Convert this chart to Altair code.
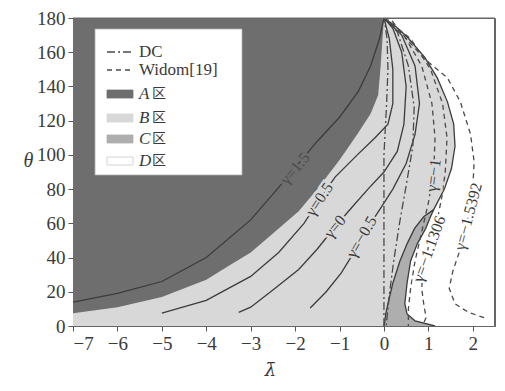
import altair as alt
import pandas as pd

# ---------------- values ----------------
x_ticks = [-7, -6, -5, -4, -3, -2, -1, 0, 1, 2]
y_ticks = [0, 20, 40, 60, 80, 100, 120, 140, 160, 180]

# lower edge of region A (theta as a function of lambda)
a_lam = [-7, -6, -5, -4, -3.5, -3, -2.5, -1.92, -1.5, -1, -0.6, -0.3, -0.13, -0.08, -0.04, 0]
a_theta = [7.5, 11, 17, 27, 35, 43, 54, 67, 80, 97, 112, 124, 135, 150, 165, 180]

# B / D border (lambda as a function of theta)
bd_theta = [0, 3, 7, 13, 25, 38, 48, 57, 64, 68, 80, 92, 105, 118, 131, 145, 157, 169, 176, 180]
bd_lam = [1.15, 0.7, 0.52, 0.47, 0.52, 0.6, 0.75, 0.94, 1.05, 1.12, 1.36, 1.52, 1.6, 1.57, 1.43, 1.2, 0.92, 0.52, 0.22, 0]

# region C: left edge on the same theta grid as the lower B/D border
c_theta = [0, 3, 7, 13, 25, 38, 48, 57, 64, 68]
c_left = [0, 0.02, 0.04, 0.09, 0.2, 0.36, 0.52, 0.69, 0.9, 1.12]
c_right = [1.15, 0.7, 0.52, 0.47, 0.52, 0.6, 0.75, 0.94, 1.05, 1.12]

# solid gamma curves
g15_lam = [-7, -6, -5, -4, -3, -2.37, -1.5, -1, -0.58, -0.3, -0.1, 0]
g15_theta = [14, 19, 26, 40, 62, 81, 108, 122, 137, 152, 168, 180]
g05_lam = [-5, -4, -3, -2.37, -1.8, -1.45, -1.1, -0.6, -0.2, 0.09, 0.2, 0.2, 0.12, 0]
g05_theta = [7.5, 15, 29, 43, 60, 74, 87, 100, 110, 118, 130, 150, 168, 180]
g0_lam = [-3.27, -3, -2.5, -1.92, -1.5, -1.1, -0.7, -0.36, 0, 0.3, 0.45, 0.5, 0.4, 0.2, 0]
g0_theta = [8, 11, 21, 33, 45, 58, 70, 80, 90, 102, 118, 140, 160, 174, 180]
gm05_lam = [-1.66, -1.3, -0.96, -0.7, -0.5, -0.3, -0.07, 0.2, 0.5, 0.7, 0.8, 0.7, 0.4, 0]
gm05_theta = [10.5, 20, 31, 42, 52, 60, 69, 80, 95, 112, 130, 152, 170, 180]

# dashed curves
dv_lam = [0, 0, 0.06, 0.09, 0.07, 0]
dv_theta = [0, 100, 130, 150, 168, 180]
d1_lam = [0, 0.3, 0.55, 0.68, 0.65, 0.5, 0.35, 0.22, 0.12, 0.05]
d1_theta = [180, 172, 152, 128, 105, 82, 60, 38, 18, 0]
gm1_lam = [0, 0.45, 0.85, 1.08, 1.15, 1.12, 1.0, 0.85, 0.7, 0.6, 0.55, 0.55]
gm1_theta = [180, 170, 152, 130, 110, 90, 72, 55, 38, 22, 10, 0]
gm11306_lam = [0, 0.6, 1.05, 1.32, 1.42, 1.38, 1.3, 1.2, 1.0, 0.88, 0.85, 0.9, 0.95, 0.9]
gm11306_theta = [180, 168, 150, 130, 110, 90, 75, 62, 46, 32, 22, 12, 5, 2]
gm15392_lam = [0, 0.16, 0.5, 0.92, 1.43, 1.72, 1.95, 2.03, 2.0, 1.88, 1.72, 1.55, 1.47, 1.6, 1.9, 2.3]
gm15392_theta = [180, 179, 168, 156, 145, 131, 112, 96, 80, 62, 45, 32, 22, 13, 8, 4.5]

# contour labels
lab_text = ["γ=1.5", "γ=0.5", "γ=0", "γ=−0.5", "γ=−1", "γ=−1.1306", "γ=−1.5392"]
lab_lam = [-2.0, -1.45, -1.1, -0.5, 1.12, 1.02, 1.9]
lab_theta = [92, 74, 58, 52, 88, 45, 64]
lab_angle = [310, 304, 310, 300, 278, 290, 285]

legend_text = ["DC", "Widom[19]"]
region_names = ["A", "B", "C", "D"]

# ---------------- styling ----------------
SERIF = "Liberation Serif"
COL_A = "#6e6e6e"
COL_B = "#d8d8d8"
COL_C = "#aeaeae"
COL_D = "#ffffff"
LINE = "#3c3c3c"
TXT = "#3a3a3a"
FRAME = "#666666"
DASH_DC = [8, 3, 2, 3]
DASH_W = [5, 4]
W, H = 422, 308

xscale = alt.Scale(domain=[-7, 2.5], nice=False, zero=False)
yscale = alt.Scale(domain=[0, 180], nice=False, zero=False)
xaxis = alt.Axis(values=x_ticks, title="λ̄", grid=False, tickSize=5, tickColor="#555",
                 domainColor=FRAME, labelFont=SERIF, labelFontSize=19, labelColor=TXT,
                 titleFont="DejaVu Serif", titleFontSize=18, titleFontStyle="italic", titleFontWeight="normal",
                 titleColor=TXT, titleX=197, titleY=44, titleAnchor="start", titleAlign="center",
                 titleBaseline="middle", labelPadding=3)
yaxis = alt.Axis(values=y_ticks, title="θ", grid=False, tickSize=5, tickColor="#555",
                 domainColor=FRAME, labelFont=SERIF, labelFontSize=19, labelColor=TXT,
                 titleFont=SERIF, titleFontSize=20, titleFontStyle="italic", titleFontWeight="normal",
                 titleColor=TXT, titleAngle=0, titleX=-45, titleY=142, titleAlign="center",
                 titleBaseline="middle", labelPadding=3)


def X(field):
    return alt.X(f"{field}:Q", scale=xscale, axis=xaxis)


def Y(field):
    return alt.Y(f"{field}:Q", scale=yscale, axis=yaxis)


layers = []

# region B (everything left of the B/D border)
bd_df = pd.DataFrame({"lam": bd_lam, "theta": bd_theta})
layers.append(alt.Chart(bd_df).mark_area(orient="horizontal", color=COL_B, clip=True).encode(
    y=Y("theta"), x=X("lam"), x2=alt.datum(-7)))

# region C
c_df = pd.DataFrame({"theta": c_theta, "lam": c_left, "lam2": c_right})
layers.append(alt.Chart(c_df).mark_area(orient="horizontal", color=COL_C, clip=True).encode(
    y=Y("theta"), x=X("lam"), x2="lam2:Q"))

# region A
a_df = pd.DataFrame({"lam": a_lam, "theta": a_theta})
layers.append(alt.Chart(a_df).mark_area(orient="vertical", color=COL_A, clip=True).encode(
    x=X("lam"), y=Y("theta"), y2=alt.datum(180)))


def curve_df(name, lam, theta):
    return pd.DataFrame({"lam": lam, "theta": theta, "curve": name, "idx": range(len(lam))})


solid = pd.concat([
    curve_df("g15", g15_lam, g15_theta),
    curve_df("g05", g05_lam, g05_theta),
    curve_df("g0", g0_lam, g0_theta),
    curve_df("gm05", gm05_lam, gm05_theta),
    curve_df("cleft", c_left, c_theta),
    curve_df("bd", bd_lam, bd_theta),
])
layers.append(alt.Chart(solid).mark_line(color=LINE, strokeWidth=1.3, clip=True).encode(
    x=X("lam"), y=Y("theta"), detail="curve:N", order="idx:Q"))

dc = pd.concat([curve_df("dv", dv_lam, dv_theta), curve_df("d1", d1_lam, d1_theta)])
layers.append(alt.Chart(dc).mark_line(color="#4a4a4a", strokeWidth=1.3, strokeDash=DASH_DC, clip=True).encode(
    x=X("lam"), y=Y("theta"), detail="curve:N", order="idx:Q"))

wd = pd.concat([
    curve_df("gm1", gm1_lam, gm1_theta),
    curve_df("gm11306", gm11306_lam, gm11306_theta),
    curve_df("gm15392", gm15392_lam, gm15392_theta),
])
layers.append(alt.Chart(wd).mark_line(color="#4a4a4a", strokeWidth=1.3, strokeDash=DASH_W, clip=True).encode(
    x=X("lam"), y=Y("theta"), detail="curve:N", order="idx:Q"))

# contour labels with a halo of the local background colour
halo_cols = [COL_A, COL_B, COL_B, COL_B, COL_B, COL_D, COL_D]
text_cols = ["#4c4c4c", TXT, TXT, TXT, TXT, TXT, TXT]
for i in range(len(lab_text)):
    ldf = pd.DataFrame({"lam": [lab_lam[i]], "theta": [lab_theta[i]], "t": [lab_text[i]]})
    base = alt.Chart(ldf)
    layers.append(base.mark_text(font=SERIF, fontSize=16, angle=lab_angle[i], stroke=halo_cols[i],
                                 strokeWidth=5, color=halo_cols[i], align="center", baseline="middle").encode(
        x=X("lam"), y=Y("theta"), text="t:N"))
    layers.append(base.mark_text(font=SERIF, fontSize=16, angle=lab_angle[i], color=text_cols[i],
                                 align="center", baseline="middle").encode(
        x=X("lam"), y=Y("theta"), text="t:N"))

# ---------------- frame (top and right edges) ----------------
one = pd.DataFrame({"k": [0]})
leg = alt.Chart(one)
layers.append(leg.mark_rule(color=FRAME, strokeWidth=1).encode(
    x=alt.value(W - 0.5), y=alt.value(0), y2=alt.value(H)))
layers.append(leg.mark_rule(color=FRAME, strokeWidth=1).encode(
    x=alt.value(0), x2=alt.value(W), y=alt.value(0)))

# ---------------- legend (drawn by hand) ----------------
layers.append(leg.mark_rect(fill="white", stroke="#b0b0b0", strokeWidth=0.8).encode(
    x=alt.value(22), x2=alt.value(169), y=alt.value(11), y2=alt.value(157)))

row_y = [34, 52, 76, 100, 121, 143]
dashes = [DASH_DC, DASH_W]
for i, name in enumerate(legend_text):
    layers.append(leg.mark_rule(color="#4a4a4a", strokeWidth=1.3, strokeDash=dashes[i]).encode(
        x=alt.value(34), x2=alt.value(60), y=alt.value(row_y[i])))
    layers.append(leg.mark_text(font=SERIF, fontSize=17, color=TXT, align="left", baseline="middle").encode(
        x=alt.value(66), y=alt.value(row_y[i]), text=alt.value(name)))

sw_cols = [COL_A, COL_B, COL_C, COL_D]
for j, name in enumerate(region_names):
    yy = row_y[2 + j]
    layers.append(leg.mark_rect(fill=sw_cols[j], stroke="#c8c8c8" if j == 3 else sw_cols[j], strokeWidth=0.8).encode(
        x=alt.value(34), x2=alt.value(60), y=alt.value(yy - 4), y2=alt.value(yy + 4)))
    layers.append(leg.mark_text(font=SERIF, fontSize=17, fontStyle="italic", color=TXT, align="left",
                                baseline="middle").encode(
        x=alt.value(66), y=alt.value(yy), text=alt.value(name)))
    layers.append(leg.mark_text(font="Noto Sans CJK SC", fontSize=14, color=TXT, align="left",
                                baseline="middle").encode(
        x=alt.value(79), y=alt.value(yy), text=alt.value("区")))

chart = alt.layer(*layers).properties(
    width=W, height=H,
    autosize=alt.AutoSizeParams(type="none"),
    padding={"left": 65, "top": 10, "right": 2, "bottom": 57},
).configure_view(stroke=FRAME, strokeWidth=1)

chart.save("out.html", embed_options={"renderer": "svg", "actions": False})
